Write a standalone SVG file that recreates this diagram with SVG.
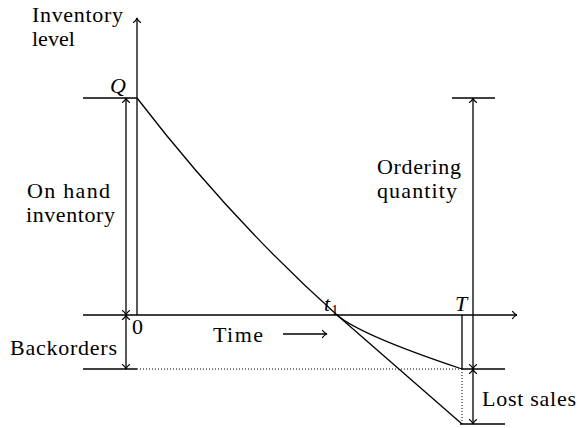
<svg xmlns="http://www.w3.org/2000/svg" width="580" height="428" viewBox="0 0 580 428">
<defs>
<marker id="ah" markerUnits="userSpaceOnUse" viewBox="-6 -5 7 10" markerWidth="7" markerHeight="10" refX="0" refY="0" orient="auto-start-reverse" overflow="visible">
<path d="M-4.5,-3.6 C-3,-1.5 -1.2,-0.3 0,0 C-1.2,0.3 -3,1.5 -4.5,3.6" stroke="#000" stroke-width="1.1" fill="none" stroke-linecap="round"/>
</marker>
</defs>
<g id="connectors" stroke="#000" stroke-width="1.3" fill="none">
<line x1="137" y1="315" x2="137" y2="18" marker-end="url(#ah)"/>
<line x1="83" y1="315" x2="517" y2="315" marker-end="url(#ah)"/>
<line x1="83" y1="98" x2="137" y2="98"/>
<line x1="83" y1="369" x2="137" y2="369"/>
<line x1="137" y1="369" x2="462" y2="369" stroke-width="1" stroke-dasharray="1 2"/>
<line x1="126" y1="98" x2="126" y2="315" marker-start="url(#ah)" marker-end="url(#ah)"/>
<line x1="126" y1="315" x2="126" y2="369" marker-start="url(#ah)" marker-end="url(#ah)"/>
<path d="M137,98 C200,180 270,255 337,315 L462,424"/>
<path d="M337,315 Q360,335 462,369"/>
<line x1="462" y1="315" x2="462" y2="369"/>
<line x1="462" y1="369" x2="462" y2="424" stroke-width="1" stroke-dasharray="1 2"/>
<line x1="452" y1="98" x2="495" y2="98"/>
<line x1="462" y1="369" x2="505" y2="369"/>
<line x1="460" y1="424" x2="505" y2="424"/>
<line x1="473" y1="98" x2="473" y2="369" marker-start="url(#ah)" marker-end="url(#ah)"/>
<line x1="473" y1="369" x2="473" y2="424" marker-start="url(#ah)" marker-end="url(#ah)"/>
<line x1="283" y1="334" x2="327" y2="334" marker-end="url(#ah)"/>
</g>
<g id="axis-label">
<text x="32" y="22" font-family="'Liberation Serif', serif" font-size="22" textLength="91" lengthAdjust="spacing">Inventory</text>
<text x="32" y="46" font-family="'Liberation Serif', serif" font-size="22">level</text>
</g>
<g id="on-hand">
<text x="27" y="198" font-family="'Liberation Serif', serif" font-size="22" textLength="83" lengthAdjust="spacing">On hand</text>
<text x="26" y="222" font-family="'Liberation Serif', serif" font-size="22" textLength="89" lengthAdjust="spacing">inventory</text>
</g>
<g id="backorders">
<text x="10" y="355" font-family="'Liberation Serif', serif" font-size="22" textLength="107" lengthAdjust="spacing">Backorders</text>
</g>
<g id="ordering">
<text x="377" y="174" font-family="'Liberation Serif', serif" font-size="22" textLength="84" lengthAdjust="spacing">Ordering</text>
<text x="377" y="198" font-family="'Liberation Serif', serif" font-size="22" textLength="80" lengthAdjust="spacing">quantity</text>
</g>
<g id="lost-sales">
<text x="482" y="406" font-family="'Liberation Serif', serif" font-size="22" textLength="94" lengthAdjust="spacing">Lost sales</text>
</g>
<g id="time">
<text x="213" y="342" font-family="'Liberation Serif', serif" font-size="22" textLength="50" lengthAdjust="spacing">Time</text>
</g>
<g id="marks">
<text x="110" y="93" font-family="'Liberation Serif', serif" font-size="22" font-style="italic">Q</text>
<text x="132" y="334" font-family="'Liberation Serif', serif" font-size="22">0</text>
<text x="324" y="311" font-family="'Liberation Serif', serif" font-size="22" font-style="italic">t</text>
<text x="331" y="315" font-family="'Liberation Serif', serif" font-size="15">1</text>
<text x="455" y="311" font-family="'Liberation Serif', serif" font-size="22" font-style="italic">T</text>
</g>
</svg>
